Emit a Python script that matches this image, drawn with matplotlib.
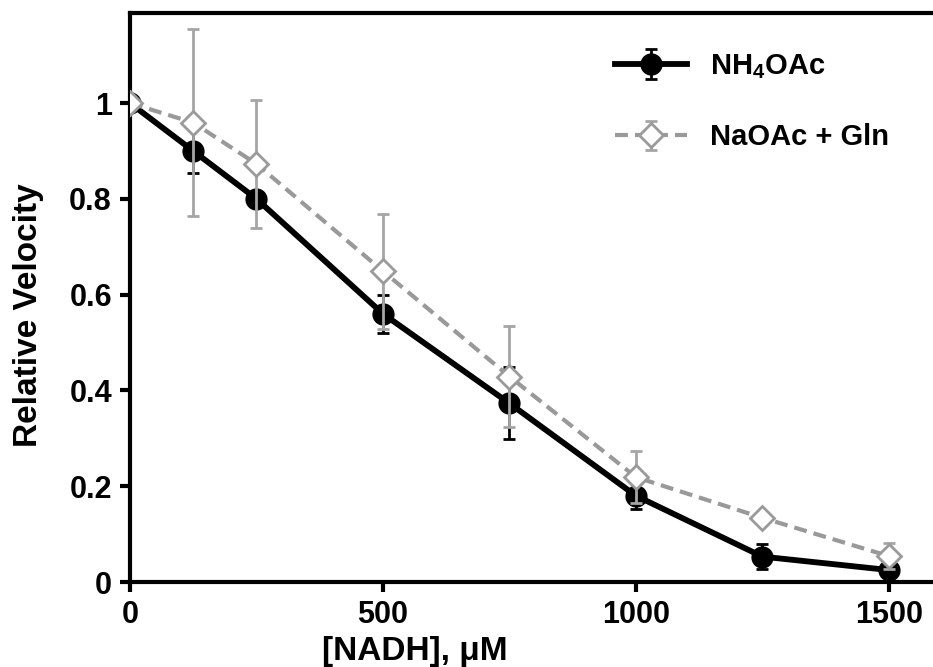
import numpy as np
import matplotlib.pyplot as plt

plt.rcParams['font.family'] = ['Liberation Sans', 'DejaVu Sans']
plt.rcParams['font.weight'] = 'bold'
plt.rcParams['mathtext.fontset'] = 'custom'
plt.rcParams['mathtext.rm'] = 'Liberation Sans:bold'
plt.rcParams['mathtext.it'] = 'Liberation Sans:bold'
plt.rcParams['mathtext.bf'] = 'Liberation Sans:bold'

nadh = [0, 125, 250, 500, 750, 1000, 1250, 1500]

nh4 = [1.0, 0.90, 0.80, 0.56, 0.373, 0.18, 0.053, 0.025]
nh4_err = [0.0, 0.045, 0.01, 0.04, 0.075, 0.028, 0.026, 0.01]

naoac = [1.0, 0.959, 0.873, 0.649, 0.429, 0.219, 0.134, 0.054]
naoac_err = [0.0, 0.195, 0.134, 0.12, 0.105, 0.055, 0.01, 0.027]

fig = plt.figure(figsize=(9.33, 6.67), dpi=100)
ax = fig.add_axes([0.1393, 0.1274, 0.8607, 0.8531])

ax.errorbar(nadh, nh4, yerr=nh4_err, color='black', lw=4.2, marker='o',
            ms=15, mfc='black', mec='black', ecolor='black', elinewidth=2,
            capsize=4, capthick=2, label='NH$_4$OAc', zorder=3)
ax.errorbar(nadh, naoac, yerr=naoac_err, color='#999999', lw=3, ls=(0, (3.1, 1.7)),
            marker='D', ms=12, mfc='white', mec='#9a9a9a', mew=2,
            ecolor='#a5a5a5', elinewidth=2, capsize=4, capthick=2,
            label='NaOAc + Gln', zorder=4)

ax.set_xlim(0, 1587)
ax.set_ylim(0, 1.188)
ax.set_xticks([0, 500, 1000, 1500])
ax.set_yticks([0, 0.2, 0.4, 0.6, 0.8, 1.0])
ax.set_yticklabels(['0', '0.2', '0.4', '0.6', '0.8', '1'])

for side in ['left', 'top', 'bottom']:
    ax.spines[side].set_linewidth(3)
ax.spines['right'].set_visible(False)
ax.tick_params(direction='out', length=7, width=3, labelsize=22, pad=6)

ax.set_xlabel('[NADH], \u03bcM', fontsize=24, fontweight='bold')
ax.xaxis.set_label_coords(0.355, -0.094)
ax.set_ylabel('Relative Velocity', fontsize=24, fontweight='bold')
ax.yaxis.set_label_coords(-0.107, 0.469)

leg = ax.legend(loc='upper left', bbox_to_anchor=(0.604, 0.931), frameon=False,
                fontsize=21, handlelength=2.47, labelspacing=1.45, handletextpad=0.79,
                borderaxespad=0, borderpad=0)

plt.savefig('out.png', dpi=100)
